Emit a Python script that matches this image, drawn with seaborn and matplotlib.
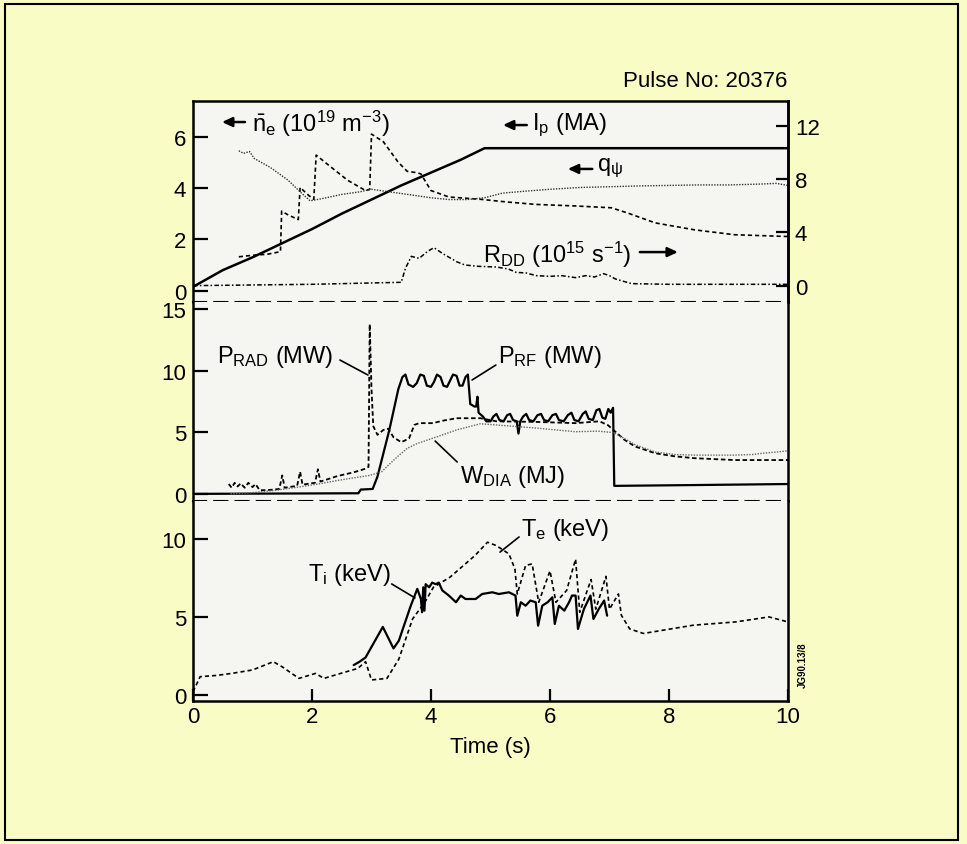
import seaborn as sns
sns.set_style("ticks")
import matplotlib.pyplot as plt
from matplotlib.patches import Rectangle

plt.rcParams['font.family'] = ['Liberation Sans', 'DejaVu Sans']
plt.rcParams['mathtext.fontset'] = 'custom'
plt.rcParams['mathtext.rm'] = 'Liberation Sans'
plt.rcParams['mathtext.it'] = 'Liberation Sans'
plt.rcParams['mathtext.default'] = 'regular'
for key in ('text.color', 'axes.labelcolor', 'xtick.color', 'ytick.color', 'axes.edgecolor'):
    plt.rcParams[key] = 'black'

# ---- data ----
# plasma current Ip (MA), left axis of top panel
t_ip = [0, 0.5, 1.0, 1.5, 2.0, 2.5, 3.0, 3.5, 4.0, 4.5, 4.9, 5.5, 7.0, 8.5, 10]
ip = [0.15, 0.8, 1.3, 1.85, 2.4, 3.0, 3.55, 4.1, 4.6, 5.1, 5.55, 5.55, 5.55, 5.55, 5.55]

# line averaged density (1e19 m-3), left axis
t_ne = [0.77, 1.0, 1.25, 1.47, 1.49, 1.6, 1.77, 1.8, 1.95, 2.03, 2.07, 2.3, 2.6, 2.9, 2.97,
        3.0, 3.2, 3.45, 3.6, 3.75, 3.83, 4.0, 4.3, 4.83, 5.3, 5.77, 6.43, 7.03, 7.3, 7.77,
        8.43, 9.1, 10]
ne = [1.32, 1.38, 1.42, 1.52, 3.1, 2.95, 2.77, 4.02, 3.7, 3.56, 5.28, 4.85, 4.3, 3.9, 3.95,
      6.1, 5.8, 5.0, 4.65, 4.6, 4.55, 3.9, 3.65, 3.56, 3.45, 3.36, 3.3, 3.23, 3.03, 2.64,
      2.37, 2.18, 2.11]

# safety factor q_psi, left axis
t_q = [0.77, 0.85, 0.95, 1.03, 1.3, 1.6, 1.8, 1.97, 2.2, 2.5, 2.8, 3.0, 3.3, 3.7, 4.0, 4.3,
       4.6, 4.9, 5.2, 5.6, 6.0, 6.5, 7.0, 7.5, 8.0, 8.5, 9.0, 9.5, 9.8, 10.0]
q = [5.45, 5.35, 5.42, 5.15, 4.8, 4.3, 3.85, 3.5, 3.6, 3.75, 3.85, 3.95, 3.85, 3.72, 3.62,
     3.55, 3.55, 3.62, 3.8, 3.88, 3.95, 4.02, 4.05, 4.08, 4.1, 4.12, 4.12, 4.15, 4.18, 4.1]

# DD reaction rate (1e15 s-1), right axis
t_rdd = [0, 1, 2, 3, 3.5, 3.57, 3.67, 3.8, 3.95, 4.05, 4.2, 4.43, 4.57, 4.8, 5.1, 5.3,
         5.43, 5.6, 5.77, 6.0, 6.2, 6.43, 6.6, 6.75, 6.9, 7.0, 7.1, 7.37, 8, 9, 10]
rdd = [0, 0.05, 0.1, 0.2, 0.25, 1.3, 2.2, 2.05, 2.6, 2.85, 2.4, 1.8, 1.55, 1.45, 1.4, 1.25,
       1.0, 0.95, 0.75, 0.7, 0.75, 0.6, 0.75, 0.65, 0.9, 0.75, 0.5, 0.15, 0.1, 0.1, 0.1]

# RF power (MW)
t_prf = [0, 2.78, 2.82, 3.02, 3.1, 3.3, 3.45, 3.52, 3.57, 3.62, 3.7, 3.76, 3.82, 3.88, 3.93,
         4.0, 4.05, 4.1, 4.16, 4.21, 4.27, 4.32, 4.37, 4.43, 4.48, 4.53, 4.58, 4.62, 4.66,
         4.73, 4.76, 4.78, 4.8, 4.87, 4.93, 5.0, 5.05, 5.1, 5.15, 5.22, 5.28, 5.33, 5.38,
         5.44, 5.47, 5.5, 5.55, 5.6, 5.65, 5.72, 5.79, 5.85, 5.9, 5.97, 6.04, 6.1, 6.15,
         6.23, 6.3, 6.36, 6.41, 6.48, 6.55, 6.6, 6.65, 6.72, 6.78, 6.83, 6.88, 6.93, 6.98,
         7.02, 7.06, 7.08, 8.5, 10]
prf = [0, 0.05, 0.35, 0.4, 1.4, 5.2, 8.5, 9.5, 9.7, 8.9, 8.7, 9.0, 9.7, 9.6, 8.8,
       8.7, 9.1, 9.7, 9.5, 8.8, 8.7, 9.2, 9.7, 9.6, 8.8, 8.8, 9.5, 9.7, 7.3,
       7.1, 7.1, 7.9, 6.6, 6.3, 5.9, 5.9, 6.3, 6.5, 6.0, 5.9, 6.4, 6.5, 6.0,
       5.9, 4.9, 5.9, 6.3, 6.5, 6.0, 5.9, 6.4, 6.5, 6.0, 5.9, 6.4, 6.5, 6.0,
       5.9, 6.4, 6.6, 6.0, 5.9, 6.5, 6.7, 6.1, 6.0, 6.8, 6.9, 6.2, 6.1, 6.9,
       6.6, 7.0, 0.65, 0.72, 0.8]

# radiated power (MW)
t_prad = [0.6, 0.65, 0.7, 0.75, 0.8, 0.87, 0.93, 1.0, 1.05, 1.12, 1.25, 1.45, 1.5, 1.54,
          1.75, 1.8, 1.84, 2.05, 2.1, 2.14, 2.43, 2.7, 2.9, 2.95, 2.97, 3.0, 3.03, 3.1,
          3.2, 3.28, 3.37, 3.5, 3.63, 3.72, 3.8, 4.03, 4.2, 4.43, 4.83, 5.1, 5.77, 6.43,
          6.83, 6.97, 7.1, 7.25, 7.43, 7.77, 8.1, 8.43, 9.1, 10]
prad = [0.8, 0.5, 0.9, 0.6, 0.85, 0.5, 0.9, 0.55, 0.8, 0.3, 0.3, 0.4, 1.5, 0.5,
        0.65, 1.8, 0.75, 0.9, 2.0, 1.0, 1.45, 1.75, 2.05, 2.2, 13.8, 8.5, 5.5, 4.8,
        5.2, 5.3, 4.6, 4.2, 4.5, 5.6, 5.75, 5.75, 5.95, 6.15, 6.15, 5.9, 5.85, 5.75,
        5.9, 5.6, 5.05, 4.4, 3.85, 3.3, 3.05, 2.9, 2.75, 2.75]

# diamagnetic energy (MJ)
t_wdia = [0.63, 1.0, 1.4, 1.77, 2.1, 2.43, 2.7, 2.97, 3.17, 3.3, 3.43, 3.6, 3.77, 4.1, 4.43,
          4.83, 5.1, 5.5, 5.77, 6.1, 6.43, 6.8, 7.03, 7.1, 7.25, 7.43, 7.77, 8.1, 8.43, 9.1,
          9.4, 9.57, 9.8, 10]
wdia = [0.0, 0.1, 0.3, 0.55, 0.8, 1.09, 1.3, 1.5, 1.8, 2.4, 3.0, 3.7, 4.1, 4.64, 5.2,
        5.7, 5.6, 5.45, 5.35, 5.2, 5.05, 5.1, 5.0, 4.9, 4.5, 4.0, 3.4, 3.2, 3.15, 3.15,
        3.2, 3.3, 3.4, 3.5]

# electron temperature (keV)
t_te = [0, 0.12, 0.4, 0.65, 1.0, 1.35, 1.5, 1.78, 2.06, 2.2, 2.5, 2.77, 2.9, 3.0, 3.26,
        3.46, 3.69, 3.9, 4.04, 4.32, 4.74, 4.95, 5.1, 5.31, 5.41, 5.45, 5.59, 5.7, 5.81,
        6.0, 6.1, 6.28, 6.43, 6.5, 6.69, 6.77, 6.94, 7.0, 7.15, 7.2, 7.34, 7.57, 8.06,
        8.41, 9.12, 9.68, 10]
te = [0.2, 1.17, 1.25, 1.38, 1.6, 2.13, 1.8, 1.06, 1.38, 1.06, 1.4, 1.7, 2.13, 0.96, 1.06,
      2.3, 4.87, 5.96, 6.9, 7.55, 8.94, 9.79, 9.57, 9.04, 8.08, 6.47, 8.3, 8.4, 5.94,
      7.95, 5.94, 6.7, 8.7, 5.3, 7.4, 5.5, 7.6, 5.5, 6.47, 5.1, 4.23, 3.94, 4.25,
      4.47, 4.68, 5.0, 4.68]

# ion temperature (keV)
t_ti = [2.7, 2.8, 2.9, 3.19, 3.37, 3.46, 3.66, 3.77, 3.83, 3.85, 3.87, 3.89, 3.91, 3.97,
        4.02, 4.08, 4.13, 4.19, 4.3, 4.42, 4.5, 4.58, 4.75, 4.86, 5.03, 5.14, 5.31, 5.42,
        5.45, 5.51, 5.59, 5.67, 5.76, 5.8, 5.87, 5.96, 6.04, 6.08, 6.15, 6.24, 6.32, 6.37,
        6.43, 6.47, 6.57, 6.68, 6.73, 6.82, 6.91, 6.96]
ti = [1.91, 2.13, 2.4, 4.36, 2.98, 3.48, 5.72, 6.8, 6.15, 5.3, 6.9, 5.4, 7.1, 6.9,
      7.2, 7.1, 7.2, 6.7, 6.37, 5.94, 6.37, 6.15, 6.15, 6.47, 6.58, 6.47, 6.58, 6.37,
      5.08, 5.94, 5.72, 6.05, 5.94, 4.44, 5.72, 5.94, 6.26, 4.55, 5.72, 5.4, 5.94, 6.37,
      6.37, 4.23, 5.51, 6.37, 4.87, 5.51, 6.05, 5.08]

# ---- figure ----
yellow = '#fafcc6'
panel = '#f5f5f2'
fig = plt.figure(figsize=(9.67, 8.45), dpi=100, facecolor=yellow)

left, width = 193 / 967, 595 / 967
ax1 = fig.add_axes([left, 0.64142, width, 0.23822])
ax2 = fig.add_axes([left, 0.40533, width, 0.23610])
ax3 = fig.add_axes([left, 0.16959, width, 0.23574])
ax1r = ax1.twinx()

for ax in (ax1, ax2, ax3):
    ax.set_facecolor(panel)
    ax.set_xlim(0, 10)
    for s in ax.spines.values():
        s.set_linewidth(1.8)
        s.set_visible(True)
        s.set_color('k')
    ax.tick_params(axis='y', direction='in', length=11, width=1.6, labelsize=16, pad=5)

ax1.spines['bottom'].set_linestyle((0, (6.3, 3.9)))
ax1.spines['bottom'].set_linewidth(1.5)
ax2.spines['top'].set_visible(False)
ax2.spines['bottom'].set_linestyle((0, (6.3, 3.9)))
ax2.spines['bottom'].set_linewidth(1.5)
ax3.spines['top'].set_visible(False)

for ax in (ax1, ax2):
    ax.tick_params(axis='x', bottom=False, labelbottom=False)
ax3.set_xticks([0, 2, 4, 6, 8, 10])
ax3.tick_params(axis='x', direction='in', length=9, width=1.6, labelsize=16, pad=4)

for side in ('left', 'top', 'bottom'):
    ax1r.spines[side].set_visible(False)
ax1r.spines['right'].set_linewidth(1.8)
ax1r.tick_params(axis='y', direction='in', length=9, width=1.6, labelsize=16, pad=5)

# top panel
kw = dict(estimator=None, sort=False)
sns.lineplot(x=t_ip, y=ip, ax=ax1, lw=1.8, color='k', **kw)
sns.lineplot(x=t_ne, y=ne, ax=ax1, lw=1.2, color='k', linestyle=(0, (2.5, 1.8)), **kw)
sns.lineplot(x=t_q, y=q, ax=ax1, lw=1.0, color='#333333', linestyle=(0, (1, 1)), **kw)
sns.lineplot(x=t_rdd, y=rdd, ax=ax1r, lw=1.1, color='k',
             linestyle=(0, (3, 1.5, 1, 1.5)), **kw)

ax1.set_ylim(-0.44, 7.4)
ax1.set_yticks([0, 2, 4, 6])
ax1r.set_ylim(-1.23, 13.9)
ax1r.set_yticks([0, 4, 8, 12])
ax1r.set_xlim(0, 10)

# middle panel
sns.lineplot(x=t_prf, y=prf, ax=ax2, lw=1.6, color='k', **kw)
sns.lineplot(x=t_prad, y=prad, ax=ax2, lw=1.3, color='k', linestyle=(0, (2.5, 1.5)), **kw)
sns.lineplot(x=t_wdia, y=wdia, ax=ax2, lw=1.0, color='#666666', linestyle=(0, (1, 1)), **kw)
ax2.set_ylim(-0.62, 15.6)
ax2.set_yticks([0, 5, 10, 15])

# bottom panel
sns.lineplot(x=t_te, y=te, ax=ax3, lw=1.2, color='k', linestyle=(0, (2.5, 1.8)), **kw)
sns.lineplot(x=t_ti, y=ti, ax=ax3, lw=1.6, color='k', **kw)
ax3.set_ylim(-0.37, 12.4)
ax3.set_yticks([0, 5, 10])

for ax in (ax1, ax1r, ax2, ax3):
    ax.set_xlabel('')
    ax.set_ylabel('')

# labels, arrows, leader lines
fs = 17
arrow = dict(arrowstyle='-|>,head_length=0.6,head_width=0.28', lw=1.8, color='k',
             shrinkA=0, shrinkB=0)
leader = dict(arrowstyle='-', lw=1.2, color='k', shrinkA=0, shrinkB=0)

ax1.annotate('', xy=(0.0487, 0.894), xytext=(0.0874, 0.894), xycoords='axes fraction',
             arrowprops=arrow)
ax1.text(0.099, 0.889, r'$\bar{n}_e$ (10$^{19}$ m$^{-3}$)', transform=ax1.transAxes,
         fontsize=fs, ha='left', va='center')
ax1.annotate('', xy=(0.521, 0.879), xytext=(0.561, 0.879), xycoords='axes fraction',
             arrowprops=arrow)
ax1.text(0.570, 0.884, r'$I_p$ (MA)', transform=ax1.transAxes, fontsize=fs,
         ha='left', va='center')
ax1.annotate('', xy=(0.630, 0.661), xytext=(0.671, 0.661), xycoords='axes fraction',
             arrowprops=arrow)
ax1.text(0.679, 0.67, r'$q_\psi$', transform=ax1.transAxes, fontsize=fs,
         ha='left', va='center')
ax1.text(0.487, 0.238, r'$R_{DD}$ (10$^{15}$ s$^{-1}$)', transform=ax1.transAxes,
         fontsize=fs, ha='left', va='center')
ax1.annotate('', xy=(0.815, 0.248), xytext=(0.751, 0.248), xycoords='axes fraction',
             arrowprops=arrow)

ax2.text(0.0403, 0.729, r'$P_{RAD}$ (MW)', transform=ax2.transAxes, fontsize=fs,
         ha='left', va='center')
ax2.annotate('', xy=(0.294, 0.634), xytext=(0.247, 0.709), xycoords='axes fraction',
             arrowprops=leader)
ax2.text(0.513, 0.729, r'$P_{RF}$ (MW)', transform=ax2.transAxes, fontsize=fs,
         ha='left', va='center')
ax2.annotate('', xy=(0.469, 0.609), xytext=(0.509, 0.684), xycoords='axes fraction',
             arrowprops=leader)
ax2.text(0.449, 0.128, r'$W_{DIA}$ (MJ)', transform=ax2.transAxes, fontsize=fs,
         ha='left', va='center')
ax2.annotate('', xy=(0.407, 0.303), xytext=(0.444, 0.198), xycoords='axes fraction',
             arrowprops=leader)

ax3.text(0.551, 0.862, r'$T_e$ (keV)', transform=ax3.transAxes, fontsize=fs,
         ha='left', va='center')
ax3.annotate('', xy=(0.516, 0.746), xytext=(0.548, 0.822), xycoords='axes fraction',
             arrowprops=leader)
ax3.text(0.193, 0.636, r'$T_i$ (keV)', transform=ax3.transAxes, fontsize=fs,
         ha='left', va='center')
ax3.annotate('', xy=(0.373, 0.516), xytext=(0.334, 0.586), xycoords='axes fraction',
             arrowprops=leader)

fig.text(0.8139, 0.903, 'Pulse No: 20376', fontsize=16, ha='right', va='center')
fig.text(0.5067, 0.1148, 'Time (s)', fontsize=16, ha='center', va='center')
fig.text(0.830, 0.213, 'JG90.13/8', fontsize=7, fontweight='bold', rotation=90,
         ha='center', va='center')

fig.patches.append(Rectangle((5 / 967, 4 / 845), 953 / 967, 836 / 845,
                             transform=fig.transFigure, fill=False, lw=1.5,
                             edgecolor='k'))

fig.savefig('out.png', dpi=100, facecolor=yellow)
